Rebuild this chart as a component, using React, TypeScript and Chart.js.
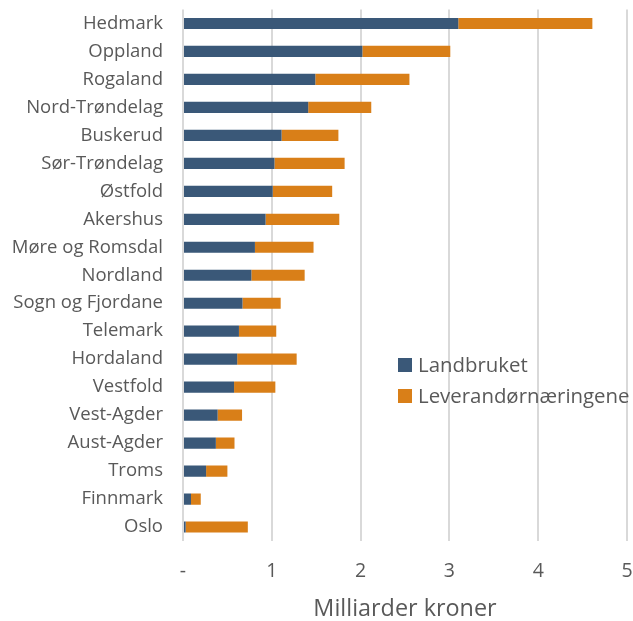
import React, { useEffect, useRef } from "react";
import { Chart, registerables } from "chart.js";

Chart.register(...registerables);

const categories = [
  "Hedmark", "Oppland", "Rogaland", "Nord-Trøndelag", "Buskerud", "Sør-Trøndelag",
  "Østfold", "Akershus", "Møre og Romsdal", "Nordland", "Sogn og Fjordane", "Telemark",
  "Hordaland", "Vestfold", "Vest-Agder", "Aust-Agder", "Troms", "Finnmark", "Oslo",
];
const landbruket = [
  3.1, 2.02, 1.49, 1.41, 1.11, 1.03, 1.01, 0.93, 0.81, 0.77, 0.67, 0.63,
  0.61, 0.575, 0.39, 0.37, 0.26, 0.09, 0.03,
];
const leverandor = [
  1.51, 0.99, 1.06, 0.71, 0.64, 0.79, 0.67, 0.83, 0.66, 0.6, 0.43, 0.42,
  0.67, 0.465, 0.275, 0.21, 0.24, 0.11, 0.7,
];
const seriesNames = ["Landbruket", "Leverandørnæringene"];
const seriesColors = ["#3A5878", "#D97F18"];
const xTitle = "Milliarder kroner";

const FONT = "'Open Sans', sans-serif";
const TEXT = "#595959";

const legendPlugin = {
  id: "floatLegend",
  afterDraw(chart: any) {
    const ctx = chart.ctx;
    const x0 = chart.chartArea.left + 215;
    const ys = [365, 396];
    ctx.save();
    ctx.font = `20.4px ${FONT}`;
    ctx.textBaseline = "middle";
    ctx.textAlign = "left";
    chart.data.datasets.forEach((ds: any, i: number) => {
      ctx.fillStyle = ds.backgroundColor;
      ctx.fillRect(x0, ys[i] - 7, 14, 14);
      ctx.fillStyle = TEXT;
      ctx.fillText(ds.label, x0 + 20, ys[i] + 1);
    });
    ctx.restore();
  },
};

export default function App() {
  const ref = useRef<HTMLCanvasElement>(null);
  useEffect(() => {
    if (!ref.current) return;
    const chart = new Chart(ref.current, {
      type: "bar",
      data: {
        labels: categories,
        datasets: [
          { label: seriesNames[0], data: landbruket, backgroundColor: seriesColors[0] },
          { label: seriesNames[1], data: leverandor, backgroundColor: seriesColors[1] },
        ],
      },
      options: {
        indexAxis: "y",
        animation: false,
        responsive: false,
        maintainAspectRatio: false,
        layout: { padding: { top: 9.5, right: 6, left: 0, bottom: 0 } },
        datasets: { bar: { categoryPercentage: 0.8, barPercentage: 0.5 } },
        plugins: { legend: { display: false }, tooltip: { enabled: false } },
        scales: {
          x: {
            stacked: true,
            min: 0,
            max: 5,
            ticks: {
              stepSize: 1,
              color: TEXT,
              font: { family: FONT, size: 19.5 },
              padding: 19,
              callback: (v: any) => (Number(v) === 0 ? "-" : String(v)),
            },
            grid: { color: "#d9d9d9", lineWidth: 2, drawTicks: false },
            border: { display: false },
            title: {
              display: true,
              text: xTitle,
              color: TEXT,
              font: { family: FONT, size: 23.4, lineHeight: 1 },
              padding: { top: 0, bottom: 0 },
            },
            afterFit: (s: any) => {
              s.height = 80;
              s.paddingLeft = 0;
              s.paddingRight = 0;
            },
          },
          y: {
            stacked: true,
            ticks: { color: TEXT, font: { family: FONT, size: 18.5 }, padding: 20, autoSkip: false },
            grid: { display: false, drawTicks: false },
            border: { display: false },
            afterFit: (s: any) => {
              s.width = 183;
              s.paddingTop = 0;
              s.paddingBottom = 0;
            },
          },
        },
      },
      plugins: [legendPlugin],
    } as any);
    return () => chart.destroy();
  }, []);
  return (
    <div style={{ position: "absolute", left: 0, top: 0, width: 633, height: 621, background: "#fff" }}>
      <canvas ref={ref} width={633} height={621} style={{ width: 633, height: 621 }} />
    </div>
  );
}
